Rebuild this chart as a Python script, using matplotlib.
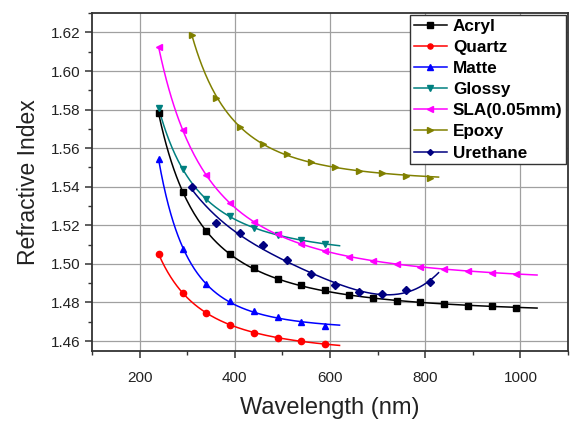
import numpy as np
import matplotlib
matplotlib.use("Agg")
import matplotlib.pyplot as plt
from matplotlib.ticker import MultipleLocator

plt.rcParams["font.family"] = ["Liberation Sans", "DejaVu Sans"]

# wavelengths (nm) of the measured points
wl_a = [240, 290, 340, 390, 440, 490, 540, 590, 640, 690, 740, 790, 840, 890, 940, 990]
wl_b = [240, 290, 340, 390, 440, 490, 540, 590]
wl_c = [310, 360, 410, 460, 510, 560, 610, 660, 710, 760, 810]

acryl = [1.5780, 1.5371, 1.5170, 1.5050, 1.4976, 1.4924, 1.4888, 1.4862,
         1.4837, 1.4825, 1.4810, 1.4800, 1.4791, 1.4784, 1.4779, 1.4771]
quartz = [1.5050, 1.4849, 1.4746, 1.4685, 1.4644, 1.4618, 1.4598, 1.4583]
matte = [1.5542, 1.5075, 1.4898, 1.4808, 1.4756, 1.4722, 1.4697, 1.4680]
glossy = [1.5807, 1.5490, 1.5335, 1.5248, 1.5187, 1.5149, 1.5123, 1.5102]
sla = [1.6122, 1.5695, 1.5461, 1.5314, 1.5218, 1.5153, 1.5102, 1.5066,
       1.5036, 1.5016, 1.4998, 1.4984, 1.4974, 1.4964, 1.4955, 1.4947]
epoxy = [1.6188, 1.5862, 1.5712, 1.5622, 1.5568, 1.5530, 1.5504, 1.5482,
         1.5470, 1.5457, 1.5447]
urethane = [1.5400, 1.5213, 1.5158, 1.5097, 1.5019, 1.4945, 1.4888, 1.4855,
            1.4846, 1.4867, 1.4906]

# where each fitted curve ends
fit_end = [1035, 620, 620, 620, 1035, 828, 828]

series = [
    ("Acryl", wl_a, acryl, "black", "s"),
    ("Quartz", wl_b, quartz, "red", "o"),
    ("Matte", wl_b, matte, "blue", "^"),
    ("Glossy", wl_b, glossy, "#008080", "v"),
    ("SLA(0.05mm)", wl_a, sla, "magenta", "<"),
    ("Epoxy", wl_c, epoxy, "#808000", ">"),
    ("Urethane", wl_c, urethane, "#000080", "D"),
]

fig = plt.figure(figsize=(5.72, 4.24), dpi=100)
ax = fig.add_axes([0.161, 0.173, 0.832, 0.796])

for (name, x, y, col, mk), xe in zip(series, fit_end):
    x = np.array(x, dtype=float)
    y = np.array(y)
    xs = np.linspace(x[0], xe, 300)
    if name == "Urethane":
        # polynomial fit (curve has a minimum)
        p = np.polyfit(x / 1000, y, 4)
        ys = np.polyval(p, xs / 1000)
    else:
        # Cauchy fit n = A + B/l^2 + C/l^4
        u = (1000 / x) ** 2
        M = np.vstack([np.ones_like(u), u, u ** 2]).T
        coef = np.linalg.lstsq(M, y, rcond=None)[0]
        us = (1000 / xs) ** 2
        ys = coef[0] + coef[1] * us + coef[2] * us ** 2
    ms = 4.5 if mk != "D" else 3.8
    ax.plot(xs, ys, color=col, lw=1.1, zorder=3)
    ax.plot(x, y, ls="none", marker=mk, color=col, ms=ms, zorder=4)
    ax.plot([], [], color=col, lw=1.1, marker=mk, ms=ms - 0.8, label=name)

ax.set_xlim(100, 1100)
ax.set_ylim(1.455, 1.63)
ax.xaxis.set_major_locator(MultipleLocator(200))
ax.xaxis.set_minor_locator(MultipleLocator(100))
ax.yaxis.set_minor_locator(MultipleLocator(0.01))
ax.set_yticks(np.arange(1.46, 1.621, 0.02))
ax.grid(True, which="major", color="#a0a0a0", lw=0.9)
ax.set_axisbelow(True)

for s in ax.spines.values():
    s.set_linewidth(1.3)
    s.set_color("#333333")
ax.tick_params(which="major", direction="out", length=5, width=1.1, labelsize=11,
               colors="#333333", labelcolor="#222222")
ax.tick_params(which="minor", direction="out", length=3, width=1.0, colors="#333333")
ax.tick_params(axis="x", which="major", pad=10)

ax.set_xlabel("Wavelength (nm)", fontsize=17, color="#222222", labelpad=8)
ax.set_ylabel("Refractive Index", fontsize=16.5, color="#222222", labelpad=8)

leg = ax.legend(loc="upper right", prop={"weight": "bold", "size": 12.3},
                frameon=True, fancybox=False, framealpha=1, edgecolor="#333333",
                borderaxespad=0.12, handlelength=1.95, labelspacing=0.36,
                borderpad=0.2, handletextpad=0.35)
leg.get_frame().set_linewidth(1.0)

fig.savefig("out.png", dpi=100)
